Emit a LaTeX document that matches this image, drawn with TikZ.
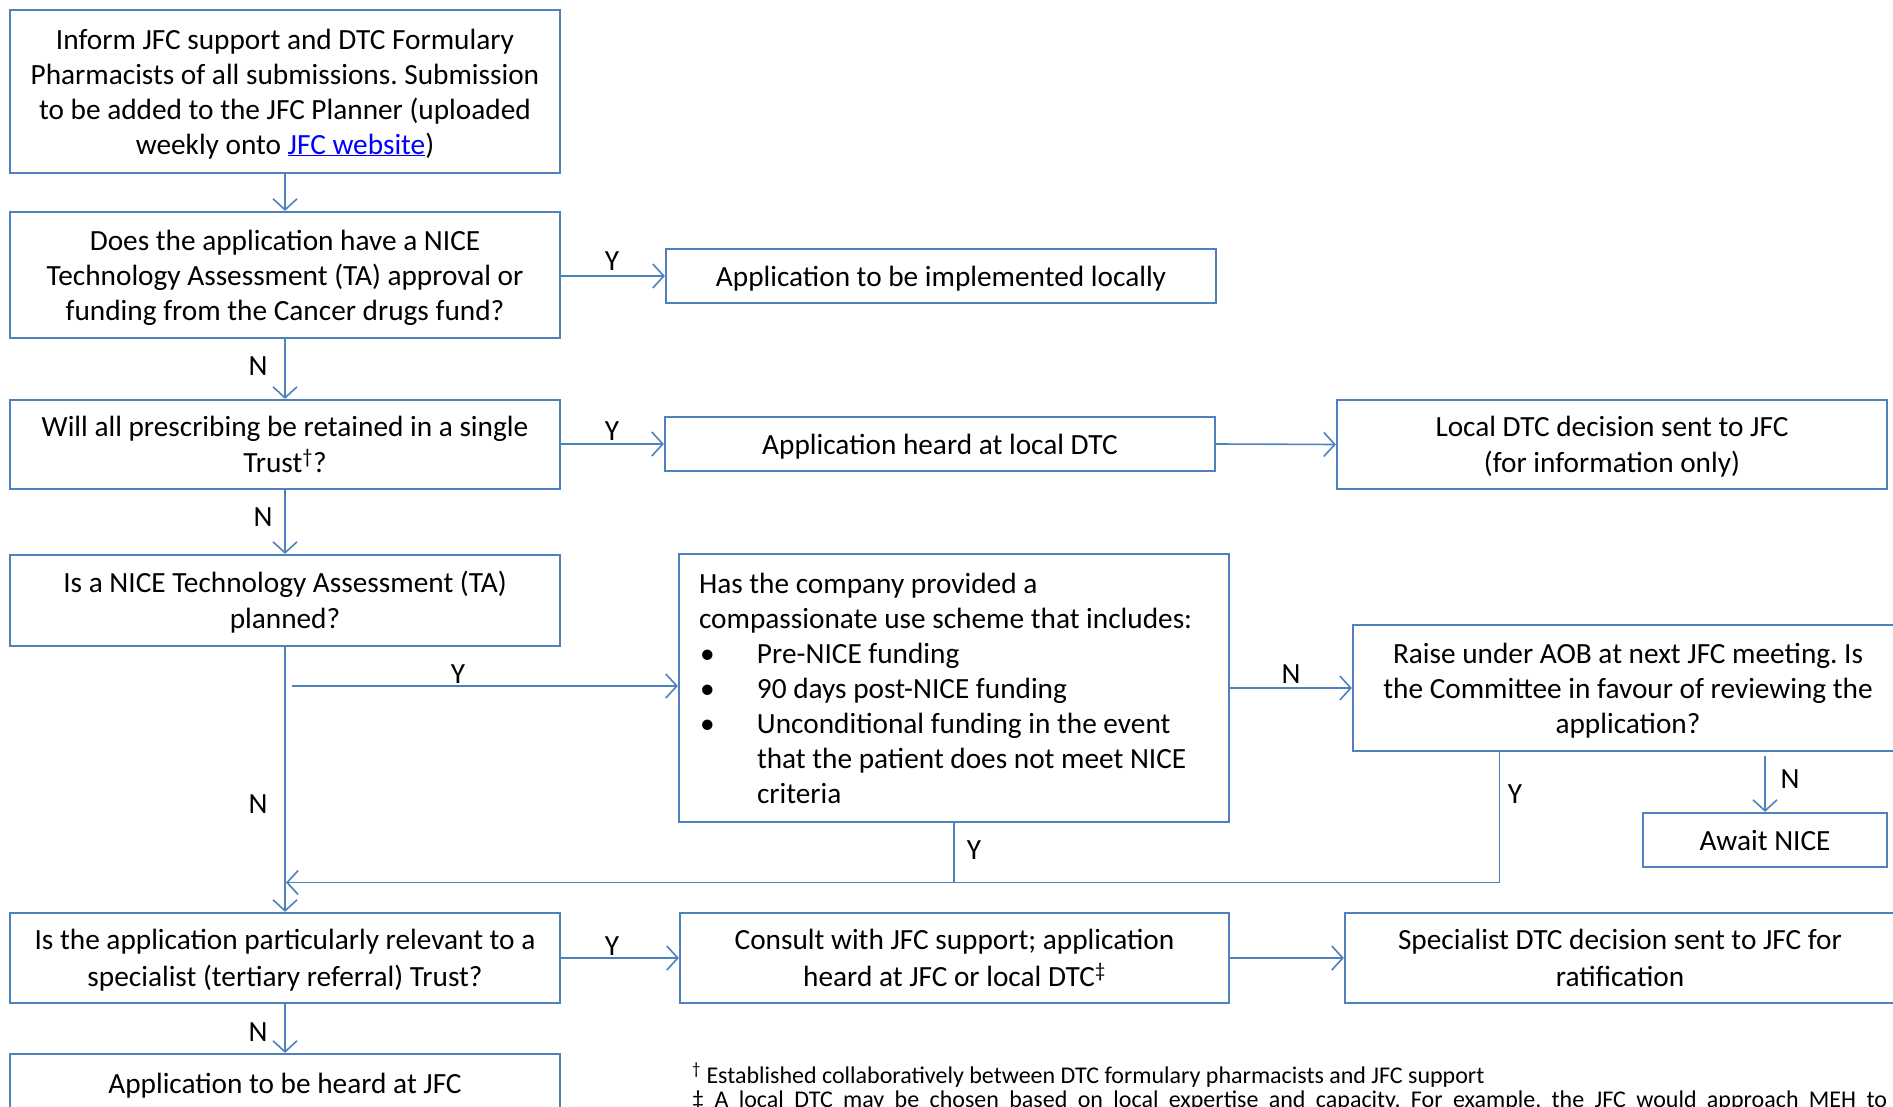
\documentclass[tikz,border=0pt]{standalone}
\usepackage{fontspec}
\setmainfont{Carlito}
\frenchspacing
\usetikzlibrary{arrows.meta}
\definecolor{boxblue}{HTML}{4F81BD}
\definecolor{linkblue}{HTML}{0000FF}
\newcommand\wordstrut{\rule[-0.269em]{0pt}{1.221em}}
\begin{document}
\begin{tikzpicture}[x=1pt,y=-1pt,
  box/.style={draw=boxblue,line width=2.2pt,inner sep=0pt,align=flush center,
    minimum width=550pt,text width=540pt,font=\fontsize{29.3}{35}\selectfont,
    execute at begin node=\wordstrut,execute at end node=\wordstrut},
  arr/.style={draw=boxblue,line width=1.6pt,-{Straight Barb[length=11pt,width=24pt,line width=1.6pt]}},
  ln/.style={draw=boxblue,line width=1.6pt},
  lbl/.style={inner sep=0pt,font=\fontsize{29.3}{35}\selectfont}]
\useasboundingbox (0,0) rectangle (1893,1107);
\clip (0,0) rectangle (1893,1107);
\fill[white] (0,0) rectangle (1893,1107);

\node[box,minimum height=163pt] (b1) at (285,91.5)
  {Inform JFC support and DTC Formulary\\Pharmacists of all submissions. Submission\\to be added to the JFC Planner (uploaded\\weekly onto {\color{linkblue}\underline{JFC website}})};
\node[box,minimum height=126pt] (b2) at (285,275)
  {Does the application have a NICE\\Technology Assessment (TA) approval or\\funding from the Cancer drugs fund?};
\node[box,minimum height=54pt] (impl) at (941,276) {Application to be implemented locally};
\node[box,minimum height=89pt] (b3) at (285,444.5)
  {Will all prescribing be retained in a single\\Trust\textsuperscript{†}?};
\node[box,minimum height=54pt] (heard) at (940,444) {Application heard at local DTC};
\node[box,minimum height=89pt] (ldec) at (1612,444.5) {Local DTC decision sent to JFC\\(for information only)};
\node[box,minimum height=91pt] (b4) at (285,600.5) {Is a NICE Technology Assessment (TA)\\planned?};
\node[box,minimum height=268pt,text width=510pt,align=flush left] (comp) at (954,688)
  {Has the company provided a\\compassionate use scheme that includes:\\
   \makebox[58pt][l]{\hspace*{1pt}•}Pre-NICE funding\\
   \makebox[58pt][l]{\hspace*{1pt}•}90 days post-NICE funding\\
   \makebox[58pt][l]{\hspace*{1pt}•}Unconditional funding in the event\\
   \hspace*{58pt}that the patient does not meet NICE\\
   \hspace*{58pt}criteria};
\node[box,minimum height=126pt] (raise) at (1628,688)
  {Raise under AOB at next JFC meeting. Is\\the Committee in favour of reviewing the\\application?};
\node[box,minimum width=244pt,text width=234pt,minimum height=54pt] (await) at (1765,840) {Await NICE};
\node[box,minimum height=90pt] (b5) at (285,958)
  {Is the application particularly relevant to a\\specialist (tertiary referral) Trust?};
\node[box,minimum height=90pt,minimum width=549pt] (cons) at (954.5,958)
  {Consult with JFC support; application\\heard at JFC or local DTC\textsuperscript{‡}};
\node[box,minimum height=90pt] (spec) at (1620,958)
  {Specialist DTC decision sent to JFC for\\ratification};
\node[box,minimum height=58pt] (b6) at (285,1083) {Application to be heard at JFC};

% footnotes
\node[anchor=west,inner sep=0pt,font=\fontsize{24}{25}\selectfont] (fn1) at (692,1075)
  {\textsuperscript{†} Established collaboratively between DTC formulary pharmacists and JFC support};
\node[anchor=west,inner sep=0pt,font=\fontsize{24}{25}\selectfont] (fn2) at (692,1101)
  {\makebox[1195pt][s]{‡ A local DTC may be chosen based on local expertise and capacity. For example, the JFC would approach MEH to}};

% connectors
\draw[arr] (b1.south) -- (b2.north);
\draw[arr] (b2.south) -- (b3.north);
\draw[arr] (b3.south) -- (b4.north);
\draw[arr] (b4.south) -- (b5.north);
\draw[arr] (b5.south) -- (b6.north);
\draw[arr] (b2.east |- impl.west) -- (impl.west);
\draw[arr] (b3.east |- heard.west) -- (heard.west);
\draw[arr] (heard.east) -- (ldec.west);
\coordinate (ys) at (292,686);
\draw[arr] (ys) -- (ys -| comp.west);
\draw[arr] (comp.east |- raise.west) -- (raise.west);
\coordinate (j) at (1499.5,882.5);
\draw[ln] (comp.south) -- (comp.south |- j);
\draw[arr] (raise.south -| j) -- (j) -- ([xshift=1pt]b4.south |- j);
\coordinate (as) at (1765,756);
\draw[arr] (as) -- (await.north);
\draw[arr] (b5.east) -- (cons.west);
\draw[arr] (cons.east) -- (spec.west);

% labels
\node[lbl] (l1) at (612,261) {Y};
\node[lbl] (l2) at (258,366) {N};
\node[lbl] (l3) at (612,431) {Y};
\node[lbl] (l4) at (263,517) {N};
\node[lbl] (l5) at (458,674) {Y};
\node[lbl] (l6) at (258,804) {N};
\node[lbl] (l7) at (1291,674) {N};
\node[lbl] (l8) at (974,850) {Y};
\node[lbl] (l9) at (1515,794) {Y};
\node[lbl] (l10) at (1790,779) {N};
\node[lbl] (l11) at (612,946) {Y};
\node[lbl] (l12) at (258,1032) {N};
\end{tikzpicture}
\end{document}
